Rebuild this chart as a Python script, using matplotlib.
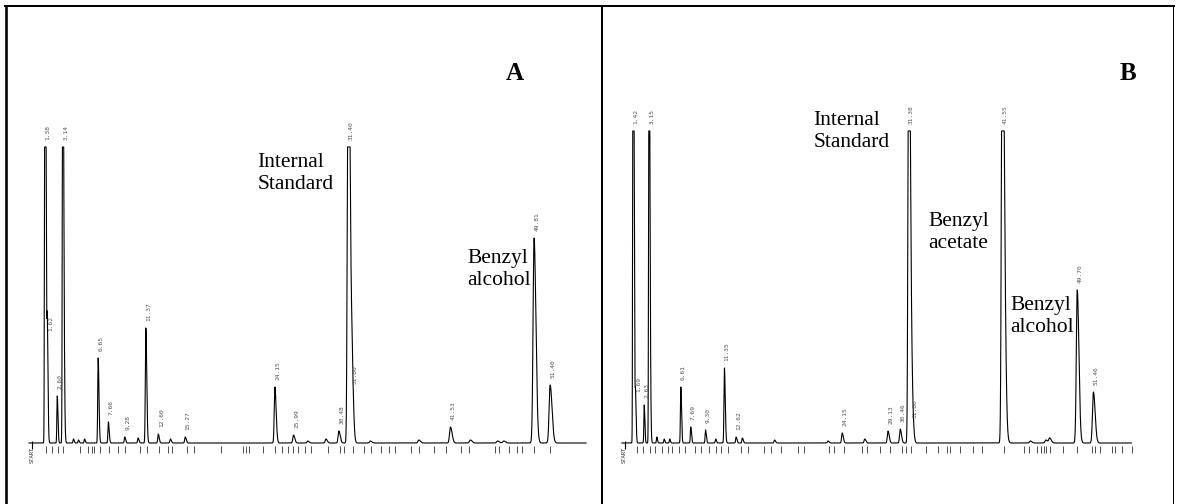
import numpy as np
import matplotlib.pyplot as plt
from matplotlib.lines import Line2D

# ---- data (retention time in min, peak height in chart units) ----
a_times = [1.38, 1.62, 2.60, 3.14, 6.65, 7.66, 9.28, 11.37, 12.60, 15.27,
           24.15, 25.99, 30.48, 31.40, 31.80, 41.53, 49.81, 51.40]
a_heights = [700, 105, 47, 500, 85, 21, 6, 115, 9, 6,
             56, 8, 12, 500, 52, 16, 205, 58]
a_minor_times = [4.2, 4.7, 5.3, 10.6, 13.8, 27.4, 29.2, 33.6, 38.4, 43.5, 46.2, 46.8]
a_minor_heights = [4, 3, 4, 5, 4, 2, 4, 2, 3, 3, 2, 2]
a_events = [1.5, 2.1, 2.7, 3.2, 4.9, 5.6, 6.0, 6.2, 6.8, 7.7, 8.6, 9.3, 10.8, 11.5,
            12.7, 13.6, 14.0, 15.4, 16.1, 18.8, 21.0, 21.3, 21.6, 23.0, 24.2, 24.9,
            25.4, 25.9, 26.4, 27.1, 27.7, 29.4, 30.6, 31.0, 31.9, 33.0, 33.7, 34.7,
            35.4, 36.0, 37.6, 38.4, 39.9, 41.1, 42.6, 43.4, 45.9, 46.3, 47.3, 48.1,
            48.6, 49.8, 51.4]

b_times = [1.42, 1.69, 2.63, 3.15, 6.61, 7.69, 9.30, 11.35, 12.62,
           24.15, 29.13, 30.46, 31.38, 31.80, 41.55, 49.70, 51.46]
b_heights = [700, 44, 38, 500, 56, 16, 13, 75, 6,
             10, 12, 14, 500, 18, 500, 153, 51]
b_minor_times = [4.0, 4.8, 5.4, 10.4, 13.3, 16.8, 22.6, 26.6, 44.6, 46.3, 46.7]
b_minor_heights = [6, 4, 4, 4, 5, 3, 2, 4, 2, 3, 5]
b_events = [1.9, 2.5, 3.3, 3.8, 4.6, 5.2, 5.7, 6.4, 7.1, 8.2, 8.8, 9.7, 10.4, 11.0,
            11.7, 13.2, 13.9, 15.7, 16.4, 17.5, 19.4, 20.0, 22.7, 23.3, 24.4, 26.3,
            26.9, 28.3, 29.4, 30.7, 31.1, 31.6, 33.3, 34.6, 35.5, 35.9, 37.0, 38.4,
            39.3, 41.7, 43.9, 44.5, 45.3, 45.8, 46.1, 46.3, 46.7, 48.1, 49.7, 51.3,
            51.6, 52.2, 53.5, 53.8, 54.6, 55.7]

a_full_scale = 296
b_full_scale = 312


def trace(t, times, heights, full):
    y = np.zeros_like(t)
    for t0, h in zip(times, heights):
        s = 0.035 + 0.0013 * t0
        tail = 2.5 if h > full else 1.8
        sl = np.where(t < t0, s, s * tail)
        y += h * np.exp(-0.5 * ((t - t0) / sl) ** 2)
    return np.minimum(y, full)


def draw_panel(ax, times, heights, minor_t, minor_h, events, full, t_start, xlim, ylim):
    ax.set_facecolor('#f9f9f9')
    t = np.linspace(t_start - 0.3, xlim[1] - 0.4, 30000)
    y = trace(t, list(times) + minor_t, list(heights) + minor_h, full)
    ax.plot(t, y, color='black', lw=0.8)
    ax.vlines(events, -10, -3, color='#333333', lw=0.6)
    ax.vlines([t_start], -6, 2, color='black', lw=0.8)
    ax.text(t_start, -4, 'START', rotation=90, ha='center', va='top',
            fontsize=4, family='DejaVu Sans Mono', color='#333333')
    for t0, h in zip(times, heights):
        ax.text(t0 + 0.3, min(h, full) + 7, f'{t0:.2f}', rotation=90,
                ha='center', va='bottom', fontsize=4.5,
                family='DejaVu Sans Mono', color='#555555')
    ax.set_xlim(*xlim)
    ax.set_ylim(*ylim)
    ax.axis('off')
    ax.patch.set_visible(True)


fig = plt.figure(figsize=(11.78, 5.04), dpi=100)
W, H = 1178, 504


def px_axes(left, top, right, bottom):
    return fig.add_axes([left / W, 1 - bottom / H, (right - left) / W, (bottom - top) / H])


ax_a = px_axes(25, 112, 590, 465)
draw_panel(ax_a, a_times, a_heights, a_minor_times, a_minor_heights, a_events,
           a_full_scale, 0.1, ((25 - 31) / 10.1, (590 - 31) / 10.1), (-22, 331))

ax_b = px_axes(618, 80, 1135, 465)
draw_panel(ax_b, b_times, b_heights, b_minor_times, b_minor_heights, b_events,
           b_full_scale, 0.5, ((618 - 620) / 9.2, (1135 - 620) / 9.2), (-22, 363))

serif = 'Liberation Serif'
lab = dict(fontsize=15.5, family=serif, ha='left', va='top', linespacing=1.2)
ax_a.text(22.4, 290, 'Internal\nStandard', **lab)
ax_a.text(43.2, 194, 'Benzyl\nalcohol', **lab)
ax_b.text(21.0, 332, 'Internal\nStandard', **lab)
ax_b.text(33.5, 231, 'Benzyl\nacetate', **lab)
ax_b.text(42.4, 147, 'Benzyl\nalcohol', **lab)

fig.text(515 / W, 1 - 73 / H, 'A', fontsize=18, family=serif, weight='bold',
         ha='center', va='center')
fig.text(1128 / W, 1 - 73 / H, 'B', fontsize=18, family=serif, weight='bold',
         ha='center', va='center')

# table borders
for (x0, y0, x1, y1, lw) in [(5, 6, 1174, 6, 2.0), (6, 6, 6, 504, 2.6),
                             (602, 6, 602, 504, 2.0), (1173, 6, 1173, 504, 1.0)]:
    fig.add_artist(Line2D([x0 / W, x1 / W], [1 - y0 / H, 1 - y1 / H],
                          color='black', lw=lw * 0.72, transform=fig.transFigure))

fig.savefig('out.png', dpi=100, facecolor='white')
